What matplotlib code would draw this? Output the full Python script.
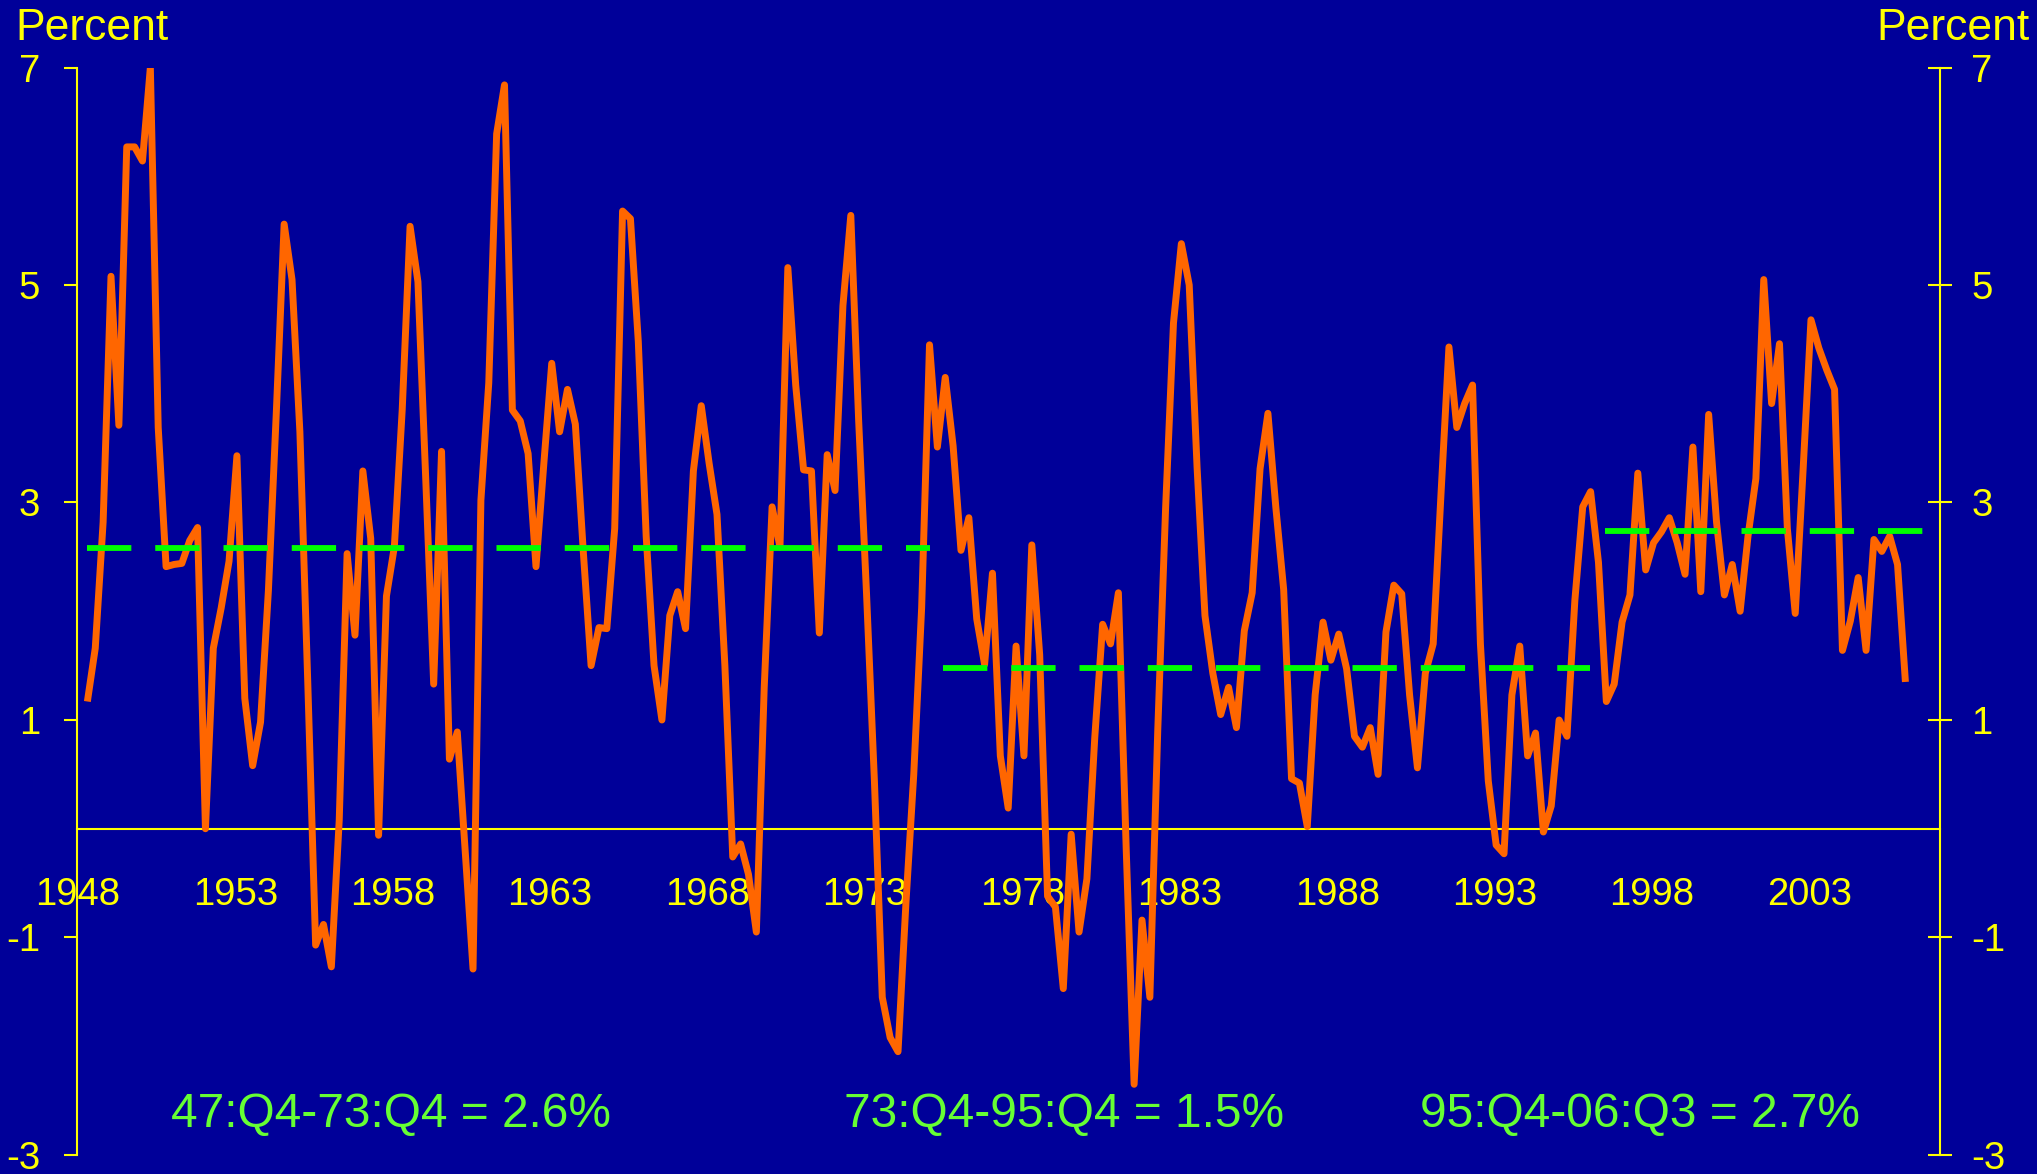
import numpy as np
import matplotlib
matplotlib.use('Agg')
import matplotlib.pyplot as plt

plt.rcParams['font.family'] = ['Liberation Sans', 'DejaVu Sans']

# ── Colours ────────────────────────────────────────────────────────────────────
BG = '#000099'
YELLOW = '#FFFF00'
ORANGE = '#FF6600'
DASH_GREEN = '#00FF00'
TEXT_GREEN = '#66FF33'

# ── Data: 4-quarter productivity growth, quarterly (percent) ───────────────────
FIRST_QTR = 1948.3   # position of first observation on the year axis
growth = [
    1.17, 1.66, 2.82, 5.08, 3.71, 6.27, 6.27, 6.14, 7.00, 3.69,
    2.41, 2.43, 2.44, 2.65, 2.77, 0.00, 1.66, 2.03, 2.46, 3.43,
    1.20, 0.58, 0.98, 2.19, 3.82, 5.56, 5.05, 3.65, 1.35, -1.07,
    -0.88, -1.27, 0.08, 2.53, 1.78, 3.29, 2.67, -0.06, 2.14, 2.59,
    3.85, 5.54, 5.03, 3.20, 1.33, 3.47, 0.64, 0.89, -0.20, -1.29,
    3.02, 4.10, 6.39, 6.84, 3.85, 3.75, 3.45, 2.41, 3.36, 4.28,
    3.65, 4.04, 3.72, 2.56, 1.50, 1.85, 1.84, 2.76, 5.68, 5.61,
    4.48, 2.69, 1.50, 1.00, 1.96, 2.18, 1.84, 3.29, 3.89, 3.36,
    2.89, 1.50, -0.26, -0.14, -0.42, -0.95, 1.30, 2.96, 2.59, 5.16,
    4.08, 3.30, 3.29, 1.80, 3.44, 3.11, 4.81, 5.64, 3.75, 2.16,
    0.44, -1.55, -1.92, -2.05, -0.69, 0.50, 2.03, 4.45, 3.51, 4.15,
    3.52, 2.56, 2.86, 1.93, 1.51, 2.35, 0.67, 0.19, 1.68, 0.67,
    2.61, 1.60, -0.62, -0.72, -1.47, -0.05, -0.95, -0.46, 0.84, 1.88,
    1.70, 2.17, -0.20, -2.35, -0.84, -1.55, 0.90, 2.95, 4.65, 5.38,
    5.00, 3.32, 1.96, 1.43, 1.05, 1.30, 0.93, 1.82, 2.17, 3.31,
    3.82, 2.96, 2.20, 0.46, 0.42, 0.02, 1.23, 1.90, 1.55, 1.79,
    1.47, 0.85, 0.75, 0.93, 0.50, 1.81, 2.24, 2.16, 1.23, 0.56,
    1.43, 1.70, 3.09, 4.43, 3.69, 3.91, 4.08, 1.70, 0.44, -0.15,
    -0.23, 1.23, 1.68, 0.67, 0.88, -0.03, 0.21, 1.00, 0.85, 2.10,
    2.96, 3.10, 2.45, 1.17, 1.33, 1.90, 2.15, 3.27, 2.38, 2.63,
    2.73, 2.86, 2.63, 2.34, 3.51, 2.18, 3.81, 2.82, 2.15, 2.43,
    2.00, 2.69, 3.22, 5.05, 3.91, 4.46, 2.76, 1.98, 3.30, 4.68,
    4.42, 4.22, 4.04, 1.64, 1.91, 2.31, 1.64, 2.66, 2.55, 2.69,
    2.43, 1.35,
]

# period averages (dashed lines)
period_start = [1948.3, 1975.48, 1996.5]
period_end = [1975.07, 1996.03, 2006.67]
period_mean = [2.58, 1.48, 2.74]
period_text = ['47:Q4-73:Q4 = 2.6%', '73:Q4-95:Q4 = 1.5%', '95:Q4-06:Q3 = 2.7%']
period_text_x = [1957.94, 1979.32, 1997.62]

year_ticks = list(range(1948, 2004, 5))
y_ticks = [-3, -1, 1, 3, 5, 7]

x = FIRST_QTR + 0.25 * np.arange(len(growth))

# ── Figure ─────────────────────────────────────────────────────────────────────
fig = plt.figure(figsize=(20.37, 11.74), dpi=100, facecolor=BG)
ax = fig.add_axes([0.0378, 0.0162, 0.9146, 0.9263])
ax.set_facecolor(BG)
ax.set_xlim(1947.97, 2007.15)
ax.set_ylim(-3, 7)

ax.plot(x, growth, color=ORANGE, lw=5.0, solid_joinstyle='round',
        solid_capstyle='butt', zorder=3)
for s, e, m in zip(period_start, period_end, period_mean):
    ax.plot([s, e], [m, m], color=DASH_GREEN, lw=4.2, dashes=(7.6, 4.1),
            dash_capstyle='butt', zorder=4)

for tx, t in zip(period_text_x, period_text):
    ax.text(tx, -2.744, t, color=TEXT_GREEN, fontsize=34.5,
            ha='center', va='baseline')

# spines: left axis, zero line as the bottom spine
for side in ['top', 'right']:
    ax.spines[side].set_visible(False)
ax.spines['left'].set_color(YELLOW)
ax.spines['left'].set_linewidth(1.5)
ax.spines['bottom'].set_position(('data', 0))
ax.spines['bottom'].set_color(YELLOW)
ax.spines['bottom'].set_linewidth(1.5)

ax.set_yticks(y_ticks)
ax.set_yticklabels([str(v) for v in y_ticks])
ax.tick_params(axis='y', direction='out', length=9.6, width=1.5,
               color=YELLOW, labelcolor=YELLOW, labelsize=27.5, pad=17)
ax.set_xticks(year_ticks)
ax.set_xticklabels([str(y) for y in year_ticks])
ax.tick_params(axis='x', length=0, labelcolor=YELLOW, labelsize=27.5, pad=35)

# right axis
ax2 = ax.twinx()
ax2.set_ylim(-3, 7)
for side in ['top', 'left', 'bottom']:
    ax2.spines[side].set_visible(False)
ax2.spines['right'].set_color(YELLOW)
ax2.spines['right'].set_linewidth(1.5)
ax2.set_yticks(y_ticks)
ax2.set_yticklabels([str(v) for v in y_ticks])
ax2.tick_params(axis='y', direction='inout', length=17.5, width=1.5,
                color=YELLOW, labelcolor=YELLOW, labelsize=27.5, pad=13.8)

fig.text(15 / 2037, 1 - 8 / 1174, 'Percent', color=YELLOW, fontsize=32,
         ha='left', va='top')
fig.text(2030 / 2037, 1 - 8 / 1174, 'Percent', color=YELLOW, fontsize=32,
         ha='right', va='top')

fig.savefig('out.png', dpi=100, facecolor=BG)
